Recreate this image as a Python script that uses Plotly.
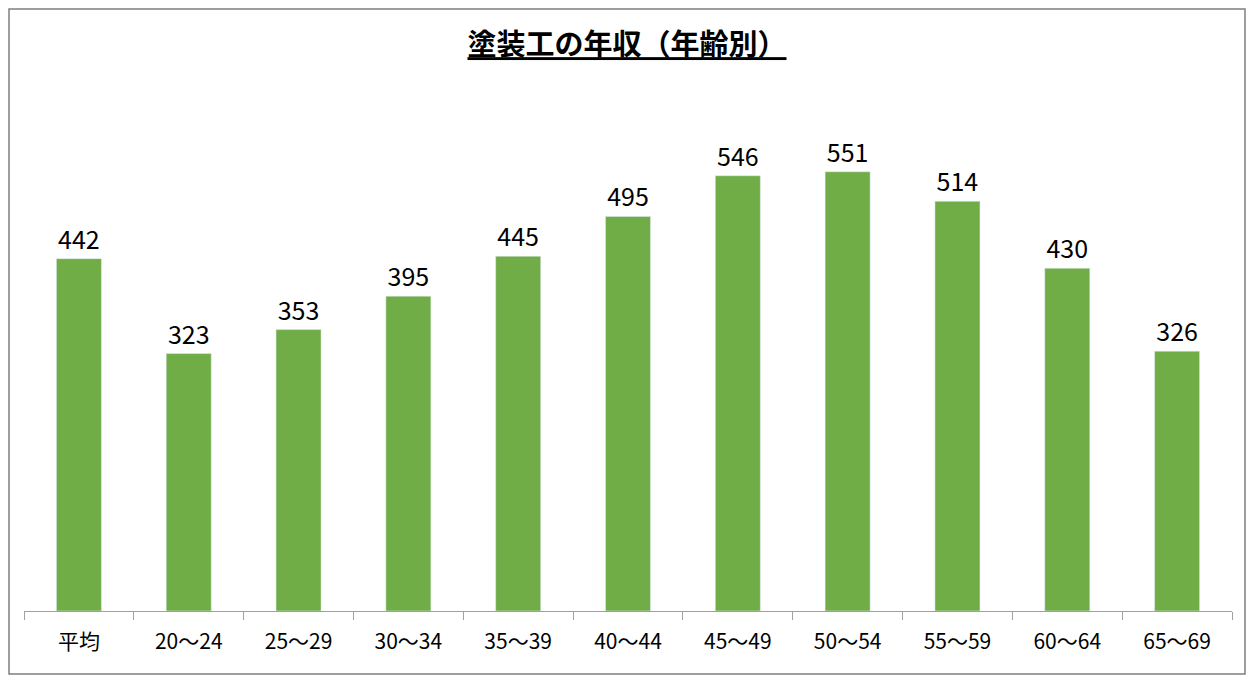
import plotly.graph_objects as go

categories = ["平均", "20～24", "25～29", "30～34", "35～39", "40～44",
              "45～49", "50～54", "55～59", "60～64", "65～69"]
income = [442, 323, 353, 395, 445, 495, 546, 551, 514, 430, 326]

font = "Noto Sans CJK JP"

fig = go.Figure(go.Bar(
    x=categories, y=income,
    marker=dict(color="#70ad47"),
    text=income, textposition="outside", cliponaxis=False,
    textfont=dict(size=25, color="black", family=font),
))

# page has an 8px body margin, so the figure is slightly smaller
W, H = 1238, 667
L, R, T, B = 16, 14, 45, 64
pw, ph = W - L - R, H - T - B

fig.update_layout(
    width=W, height=H,
    margin=dict(l=L, r=R, t=T, b=B),
    plot_bgcolor="white", paper_bgcolor="white",
    bargap=0.59,
    showlegend=False,
    title=dict(text="<b><u>塗装工の年収（年齢別）</u></b>", x=0.5, y=1 - 37 / H,
               xanchor="center", yanchor="middle",
               font=dict(size=29, color="black", family=font)),
    xaxis=dict(showline=True, linecolor="#a0a0a0", linewidth=1,
               ticks="outside", tickson="boundaries", ticklen=8,
               tickcolor="#a0a0a0", ticklabelstandoff=12,
               tickfont=dict(size=21, color="black", family=font)),
    yaxis=dict(range=[0, 700], visible=False, showgrid=False),
    shapes=[dict(type="rect", xref="paper", yref="paper",
                 x0=(1 - L) / pw, x1=(W - 1 - L) / pw,
                 y0=-(B - 1) / ph, y1=(T - 1) / ph + 1,
                 line=dict(color="#7f7f7f", width=1.5))],
)

fig.write_html("out.html")
